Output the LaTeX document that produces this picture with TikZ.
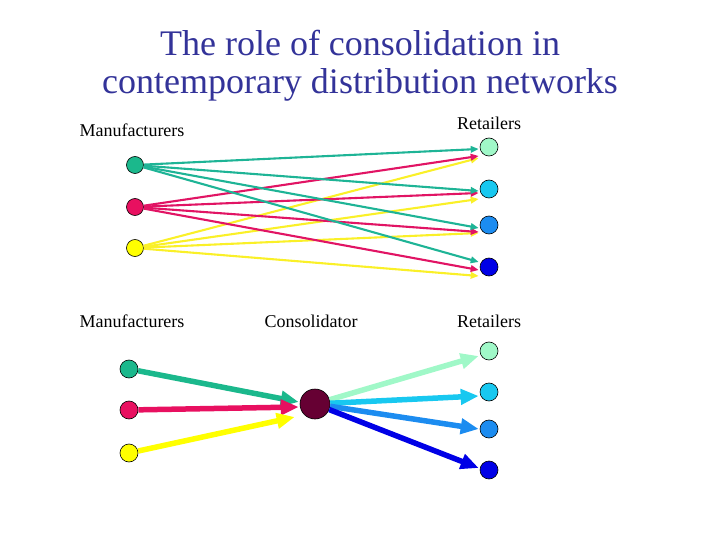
\documentclass[tikz,border=0pt]{standalone}
\usepackage{fontspec}
\setmainfont{Liberation Serif}
\usetikzlibrary{arrows.meta,calc}
\definecolor{mgreen}{RGB}{27,184,140}
\definecolor{mred}{RGB}{232,16,96}
\definecolor{myellow}{RGB}{255,255,0}
\definecolor{rmint}{RGB}{160,248,200}
\definecolor{rcyan}{RGB}{24,200,240}
\definecolor{rblue}{RGB}{28,140,240}
\definecolor{rdark}{RGB}{0,0,230}
\definecolor{cons}{RGB}{102,0,51}
\definecolor{titleblue}{RGB}{51,51,153}
\definecolor{tgreen}{RGB}{30,180,150}
\definecolor{tred}{RGB}{225,20,100}
\definecolor{tyellow}{RGB}{250,240,40}
\tikzset{
  dot/.style={circle,draw=black,line width=0.6pt,minimum size=#1,inner sep=0pt},
  lbl/.style={font=\fontsize{18}{21}\selectfont},
  thin arrow/.style={line width=2.1pt,-{Triangle[length=8pt,width=6.5pt]}},
  thick arrow/.style={line width=5.5pt,-{Triangle[length=18pt,width=15pt]}},
}
\begin{document}
\begin{tikzpicture}[x=1pt,y=-1pt]
\useasboundingbox (0,0) rectangle (720,540);
\node[titleblue,font=\fontsize{36}{38}\selectfont,align=center] (title) at (360,66) {The role of consolidation in\\contemporary distribution networks};
% top section
\node[lbl] (lm1) at (132,130) {Manufacturers};
\node[lbl] (lr1) at (489,123) {Retailers};
\node[dot=17pt,fill=mgreen] (m1) at (135,165) {};
\node[dot=17pt,fill=mred] (m2) at (135,207) {};
\node[dot=17pt,fill=myellow] (m3) at (135,248) {};
\node[dot=18pt,fill=rmint] (r1) at (489,147) {};
\node[dot=18pt,fill=rcyan] (r2) at (489,189) {};
\node[dot=18pt,fill=rblue] (r3) at (489,225) {};
\node[dot=18pt,fill=rdark] (r4) at (489,267) {};
\foreach \r/\g/\rr/\y in {r1/2/9/11, r2/2/4/10, r3/3/7/8, r4/-5/3/9}{
  \draw[thin arrow,tyellow] (m3) -- ($(\r.west)+(-1,\y)$);
  \draw[thin arrow,tred] (m2) -- ($(\r.west)+(-1,\rr)$);
  \draw[thin arrow,tgreen] (m1) -- ($(\r.west)+(-1,\g)$);
}
% bottom section
\node[lbl] (lm2) at (132,321) {Manufacturers};
\node[lbl] (lc) at (311,321) {Consolidator};
\node[lbl] (lr2) at (489,321) {Retailers};
\node[dot=18pt,fill=mgreen] (m4) at (129,369) {};
\node[dot=18pt,fill=mred] (m5) at (129,410) {};
\node[dot=18pt,fill=myellow] (m6) at (129,453) {};
\node[dot=30pt,fill=cons] (c) at (315,404) {};
\node[dot=18pt,fill=rmint] (r5) at (489,351) {};
\node[dot=18pt,fill=rcyan] (r6) at (489,392) {};
\node[dot=18pt,fill=rblue] (r7) at (489,429) {};
\node[dot=18pt,fill=rdark] (r8) at (489,470) {};
\draw[thick arrow,mgreen] (m4) -- ($(c.west)+(-1,-2)$);
\draw[thick arrow,mred] (m5) -- ($(c.west)+(-1,3)$);
\draw[thick arrow,myellow] (m6) -- ($(c.west)+(-5,13)$);
\draw[thick arrow,rmint] (c) -- ($(r5.west)+(-1,5)$);
\draw[thick arrow,rcyan] (c) -- ($(r6.west)+(-1,4)$);
\draw[thick arrow,rblue] (c) -- ($(r7.west)+(-1,0)$);
\draw[thick arrow,rdark] (c) -- ($(r8.west)+(-1,-2)$);
\end{tikzpicture}
\end{document}
